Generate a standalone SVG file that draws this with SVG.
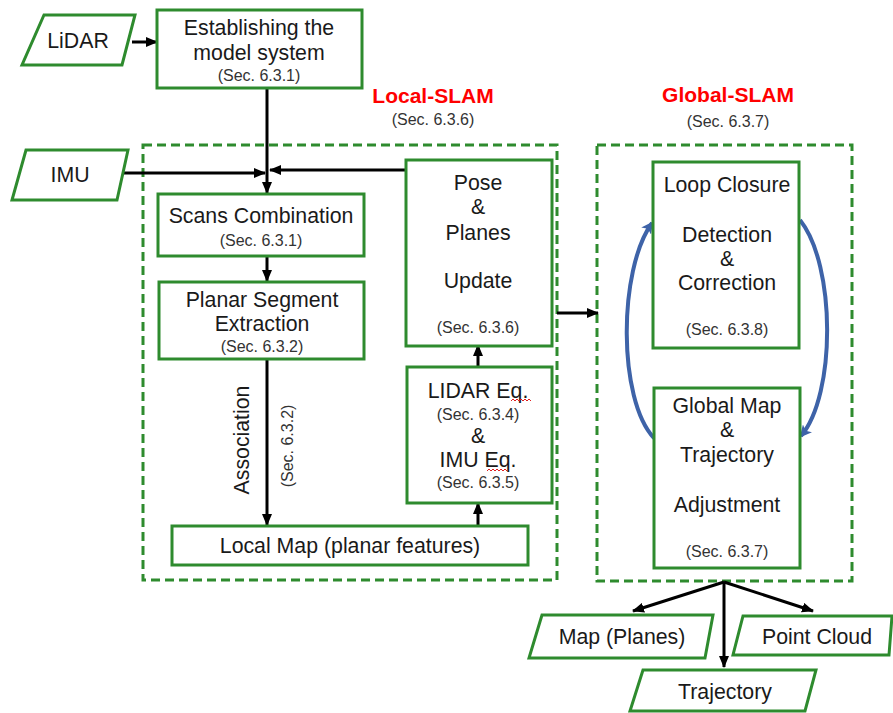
<svg xmlns="http://www.w3.org/2000/svg" width="893" height="713" viewBox="0 0 893 713">
<defs>
<marker id="ah" markerUnits="userSpaceOnUse" markerWidth="12" markerHeight="10" refX="11" refY="5" orient="auto">
<path d="M0,0 L12,5 L0,10 Z" fill="#000"/>
</marker>
<marker id="bh" markerUnits="userSpaceOnUse" markerWidth="12" markerHeight="12" refX="10" refY="6" orient="auto">
<path d="M0,0 L12,6 L0,12 L3,6 Z" fill="#3e63a8"/>
</marker>
<style>
.box{fill:#fff;stroke:#2e8b2e;stroke-width:3}
.grp{fill:none;stroke:#2e8b2e;stroke-width:3;stroke-dasharray:9,5}
.t{font-family:"Liberation Sans",Arial,sans-serif;font-size:21.3px;fill:#1a1a1a;text-anchor:middle}
.s{font-family:"Liberation Sans",Arial,sans-serif;font-size:16px;fill:#333;text-anchor:middle}
.h{font-family:"Liberation Sans",Arial,sans-serif;font-size:21px;font-weight:bold;fill:#ff0000;text-anchor:middle}
.c{fill:none;stroke:#000;stroke-width:3}
.b{fill:none;stroke:#3e63a8;stroke-width:4}
.sq{fill:none;stroke:#e02020;stroke-width:1}
</style>
</defs>
<rect width="893" height="713" fill="#fff"/>

<g id="local-slam-group">
<rect class="grp" x="143" y="145" width="414" height="435"/>
<text class="h" x="433" y="103">Local-SLAM</text>
<text class="s" x="433" y="125">(Sec. 6.3.6)</text>
</g>
<g id="global-slam-group">
<rect class="grp" x="597" y="145" width="255" height="436"/>
<text class="h" x="728" y="102">Global-SLAM</text>
<text class="s" x="728" y="127">(Sec. 6.3.7)</text>
</g>

<g id="connectors">
<line class="c" x1="132" y1="42" x2="157" y2="42" marker-end="url(#ah)"/>
<line class="c" x1="267" y1="88" x2="267" y2="193" marker-end="url(#ah)"/>
<line class="c" x1="120" y1="173" x2="265" y2="173" marker-end="url(#ah)"/>
<line class="c" x1="406" y1="170" x2="270" y2="170" marker-end="url(#ah)"/>
<line class="c" x1="267" y1="256" x2="267" y2="281" marker-end="url(#ah)"/>
<line class="c" x1="267" y1="359" x2="267" y2="525" marker-end="url(#ah)"/>
<line class="c" x1="478" y1="526" x2="478" y2="503" marker-end="url(#ah)"/>
<line class="c" x1="478" y1="367" x2="478" y2="345" marker-end="url(#ah)"/>
<line class="c" x1="557" y1="313" x2="598" y2="313" marker-end="url(#ah)"/>
<path class="b" d="M654,438 C618,400 618,270 652,223" marker-end="url(#bh)"/>
<path class="b" d="M800,220 C836,265 836,395 801,436" marker-end="url(#bh)"/>
<line class="c" x1="724" y1="582" x2="633" y2="611" marker-end="url(#ah)"/>
<line class="c" x1="724" y1="582" x2="813" y2="611" marker-end="url(#ah)"/>
<line class="c" x1="724" y1="582" x2="724" y2="667" marker-end="url(#ah)"/>
</g>

<g id="lidar">
<polygon class="box" points="44,15 135,15 122,65 22,65"/>
<text class="t" x="78" y="48">LiDAR</text>
</g>
<g id="imu">
<polygon class="box" points="26,150 128,150 117,200 12,200"/>
<text class="t" x="70" y="182">IMU</text>
</g>
<g id="establishing">
<rect class="box" x="157" y="10" width="205" height="78"/>
<text class="t" x="259" y="35">Establishing the</text>
<text class="t" x="259" y="60">model system</text>
<text class="s" x="259" y="81">(Sec. 6.3.1)</text>
</g>
<g id="scans">
<rect class="box" x="158" y="194" width="206" height="62"/>
<text class="t" x="261" y="223">Scans Combination</text>
<text class="s" x="261" y="246">(Sec. 6.3.1)</text>
</g>
<g id="planar">
<rect class="box" x="159" y="282" width="205" height="77"/>
<text class="t" x="262" y="307">Planar Segment</text>
<text class="t" x="262" y="331">Extraction</text>
<text class="s" x="262" y="352">(Sec. 6.3.2)</text>
</g>
<g id="association-label">
<text class="t" transform="translate(249,440) rotate(-90)">Association</text>
<text class="s" transform="translate(293,446) rotate(-90)">(Sec. 6.3.2)</text>
</g>
<g id="localmap">
<rect class="box" x="172" y="526" width="356" height="39"/>
<text class="t" x="350" y="553">Local Map (planar features)</text>
</g>
<g id="equations">
<rect class="box" x="407" y="367" width="145" height="136"/>
<text class="t" x="478" y="398">LIDAR Eq.</text>
<path class="sq" d="M511,401 l2,-2 l2,2 l2,-2 l2,2 l2,-2 l2,2 l2,-2 l2,2 l2,-2 l2,2"/>
<text class="s" x="478" y="420">(Sec. 6.3.4)</text>
<text class="t" x="478" y="443">&amp;</text>
<text class="t" x="478" y="467">IMU Eq.</text>
<path class="sq" d="M487,471 l2,-2 l2,2 l2,-2 l2,2 l2,-2 l2,2 l2,-2 l2,2 l2,-2 l2,2"/>
<text class="s" x="478" y="488">(Sec. 6.3.5)</text>
</g>
<g id="pose">
<rect class="box" x="406" y="160" width="146" height="186"/>
<text class="t" x="478" y="190">Pose</text>
<text class="t" x="478" y="214">&amp;</text>
<text class="t" x="478" y="240">Planes</text>
<text class="t" x="478" y="288">Update</text>
<text class="s" x="478" y="333">(Sec. 6.3.6)</text>
</g>
<g id="loop">
<rect class="box" x="653" y="162" width="146" height="186"/>
<text class="t" x="727" y="192">Loop Closure</text>
<text class="t" x="727" y="242">Detection</text>
<text class="t" x="727" y="266">&amp;</text>
<text class="t" x="727" y="290">Correction</text>
<text class="s" x="727" y="335">(Sec. 6.3.8)</text>
</g>
<g id="globalmap">
<rect class="box" x="654" y="388" width="146" height="180"/>
<text class="t" x="727" y="413">Global Map</text>
<text class="t" x="727" y="437">&amp;</text>
<text class="t" x="727" y="462">Trajectory</text>
<text class="t" x="727" y="512">Adjustment</text>
<text class="s" x="727" y="557">(Sec. 6.3.7)</text>
</g>
<g id="mapplanes">
<polygon class="box" points="542,615 713,615 705,658 529,658"/>
<text class="t" x="622" y="644">Map (Planes)</text>
</g>
<g id="pointcloud">
<polygon class="box" points="743,616 892,616 889,655 733,655"/>
<text class="t" x="817" y="644">Point Cloud</text>
</g>
<g id="trajectory">
<polygon class="box" points="643,670 816,670 805,711 630,711"/>
<text class="t" x="725" y="699">Trajectory</text>
</g>
</svg>
